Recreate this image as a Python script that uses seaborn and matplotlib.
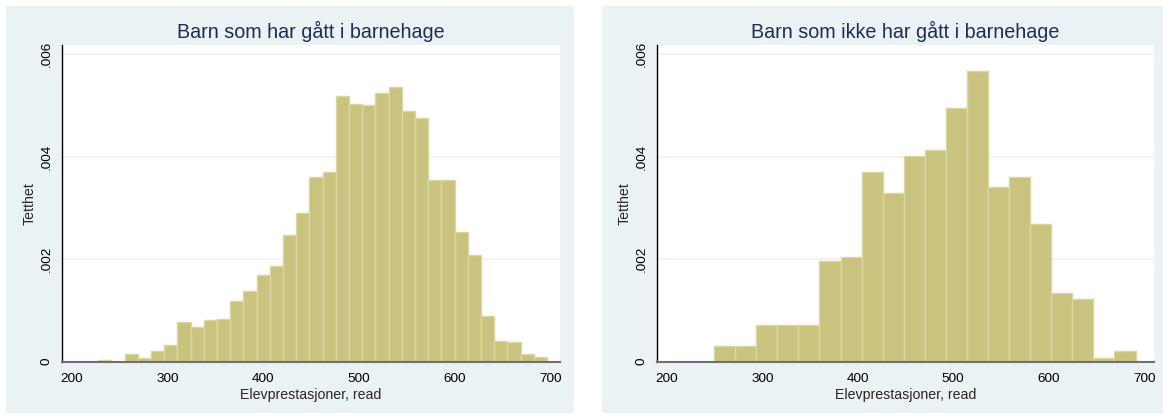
import matplotlib
matplotlib.use("Agg")
import matplotlib.pyplot as plt
import numpy as np
import pandas as pd
import seaborn as sns
from matplotlib.patches import Rectangle

sns.set_style("white")
plt.rcParams['font.family'] = ['Liberation Sans', 'DejaVu Sans']

# histogram densities (Stata style, equal-width bins)
left_title = 'Barn som har gått i barnehage'
left_min, left_max, left_nbins = 227.8, 696.5, 34
left_density = [0.00003, 0, 0.00016, 0.00008, 0.0002, 0.00032, 0.00077, 0.00067,
                0.00081, 0.00084, 0.00119, 0.00137, 0.0017, 0.00186, 0.00248, 0.00291,
                0.00361, 0.00371, 0.00518, 0.00503, 0.00501, 0.00525, 0.00536, 0.0049,
                0.00476, 0.00355, 0.00355, 0.00254, 0.00208, 0.00089, 0.0004, 0.00038,
                0.00016, 0.00009]

right_title = 'Barn som ikke har gått i barnehage'
right_min, right_max, right_nbins = 249.5, 691.0, 20
right_density = [0.0003, 0.0003, 0.00072, 0.00072, 0.00072, 0.00196, 0.00205, 0.0037,
                 0.00329, 0.00402, 0.00413, 0.00495, 0.00567, 0.0034, 0.0036, 0.00268,
                 0.00134, 0.00123, 0.00008, 0.0002]

x_ticks = [200, 300, 400, 500, 600, 700]
y_ticks = [0, 0.002, 0.004, 0.006]
y_ticklabels = ['0', '.002', '.004', '.006']
x_label = 'Elevprestasjoner, read'
y_label = 'Tetthet'

W, H = 1163, 417
fig = plt.figure(figsize=(W / 100, H / 100), dpi=100)
fig.patch.set_facecolor('white')

bg = '#EAF2F3'
fig.patches.append(Rectangle((6 / W, 4 / H), 568 / W, 407 / H, transform=fig.transFigure,
                             facecolor=bg, edgecolor='none', zorder=-10))
fig.patches.append(Rectangle((602 / W, 4 / H), 561 / W, 407 / H, transform=fig.transFigure,
                             facecolor=bg, edgecolor='none', zorder=-10))

ax1 = fig.add_axes([62 / W, (H - 361.7) / H, 498 / W, (361.7 - 45) / H])
ax2 = fig.add_axes([657.3 / W, (H - 361.7) / H, 496.4 / W, (361.7 - 45) / H])

panels = [(ax1, left_title, left_min, left_max, left_nbins, left_density),
          (ax2, right_title, right_min, right_max, right_nbins, right_density)]

for ax, title, lo, hi, nb, dens in panels:
    edges = np.linspace(lo, hi, nb + 1)
    df = pd.DataFrame({'read': (edges[:-1] + edges[1:]) / 2, 'dens': dens})
    sns.histplot(data=df, x='read', weights='dens', bins=list(edges), stat='count', ax=ax,
                 color='#CAC27F', edgecolor='#DCD6A2', linewidth=1.0, alpha=1)
    ax.set_xlim(190, 710)
    ax.set_ylim(0, 0.00618)
    ax.set_xticks(x_ticks)
    ax.set_yticks(y_ticks)
    ax.set_yticklabels(y_ticklabels, rotation=90, va='center')
    for yv in y_ticks[1:]:
        ax.axhline(yv, color='#EAF2F3', linewidth=1.2, zorder=0)
    ax.set_axisbelow(True)
    ax.set_facecolor('white')
    ax.tick_params(axis='both', direction='out', length=3.3, width=1, labelsize=9.7,
                   colors='#000000')
    ax.tick_params(axis='x', color='#404040', pad=4.5)
    ax.tick_params(axis='y', pad=3.5)
    for s in ['top', 'right']:
        ax.spines[s].set_visible(False)
    ax.spines['left'].set_color('black')
    ax.spines['left'].set_linewidth(1)
    ax.spines['bottom'].set_color('#707070')
    ax.spines['bottom'].set_linewidth(1.5)
    ax.set_xlabel(x_label, fontsize=10.2)
    ax.set_ylabel(y_label, fontsize=10.2)
    ax.xaxis.set_label_coords(0.5, -(388 - 361.7) / 316.7)
    ax.yaxis.set_label_coords(-25.5 / 498, 0.5)
    ax.set_title(title, fontsize=14.2, color='#1E2D5A', pad=5)

plt.savefig('out.png', dpi=100)
